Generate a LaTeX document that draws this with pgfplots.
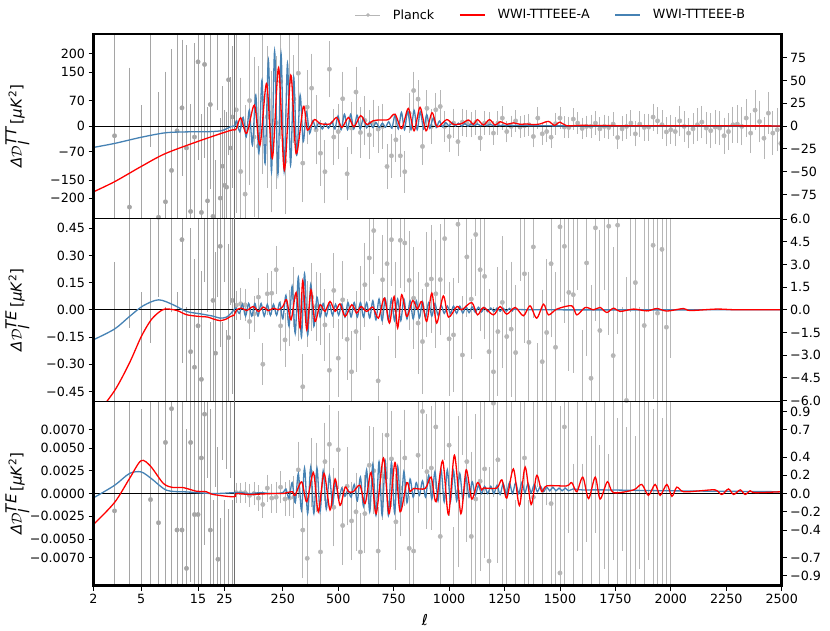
\documentclass[border=0pt]{standalone}
\usepackage{pgfplots}
\pgfplotsset{compat=1.18}
\usepackage{pgfplotstable}
\usepackage{fontspec}
\setmainfont{DejaVu Sans}
\definecolor{sblue}{RGB}{70,130,180}
\definecolor{pgray}{RGB}{182,182,182}
\definecolor{pgrayd}{RGB}{165,165,165}
\definecolor{vline}{RGB}{110,110,110}

\pgfplotstableread{
l v e
2 -150 200
3 -10.6 150
4 -88.8 150
5 -130 150
6 120 140
7 -100 134
8 -83 140
9 -48.6 130
10 -5.2 120
11 20 72
12 -24 110
13 -93.6 115
14 -12 100
15 70.5 105
16 -94.7 105
17 67.6 100
18 -82 100
19 23.7 90
20 -99 90
21 -130 90
22 110 90
23 -79 85
24 -44 85
25 -65 80
26 -67 80
27 50.8 80
28 -24 75
29 10 75
}\ttlow

\pgfplotstableread{
l v e
40 17.9 110
60 -49.8 100
80 -74.6 95
100 28 90
120 -12 85
140 -22 85
160 30.7 80
180 10 75
200 -16.9 75
220 3.6 70
240 48.9 60
260 -38.8 55
280 48.9 50
300 29.6 45
320 58 40
340 -40.6 40
360 20.8 38
380 41.6 35
400 -4.1 35
420 -29.7 33
440 -50 32
460 62.4 28
480 -12 28
500 -6 27
520 30 27
540 -52.3 26
560 -2.2 26
580 37.3 25
600 -7 25
620 6.2 24
640 -9.6 24
660 3.3 23
680 -3.3 23
700 -0.4 22
720 -44.3 22
740 -32.6 21
760 -15 21
780 -32.6 20
800 -50 20
820 14.2 19
840 39 18
860 29.6 18
880 -22.3 17
900 19.5 17
920 -0.4 16
940 17.9 15
960 21.5 15
980 -0.4 14
1000 -11.4 14
1020 3.3 13
1040 -17 13
1060 4.4 12
1080 3.3 12
1100 1.5 11
1120 4 11
1140 -13 11
1160 3.3 10
1180 2.6 10
1200 -7.7 10
1220 3.3 10
1240 8.8 10
1260 -6 9
1280 -0.4 9
1300 5.7 9
1320 -1.1 9
1340 0.4 9
1360 1.5 9
1380 -11.4 9
1400 8.8 9
1420 -8.5 9
1440 -6 9
1460 -12.2 9
1480 2.6 9
1500 8.8 9
1520 -1.1 9
1540 -1.5 9
1560 7.7 9
1580 3.3 9
1600 -2.6 9
1620 -0.4 9
1640 -0.4 10
1660 3.3 10
1680 -3 10
1700 -0.4 10
1720 -1.5 10
1740 2.2 10
1760 -12.5 10
1780 -3 11
1800 -0.4 11
1820 3.3 11
1840 -8.5 11
1860 2.2 11
1880 -1.5 12
1900 -1.1 12
1920 9.9 12
1940 5.7 12
1960 1.5 13
1980 -6.4 13
2000 -4 13
2020 -6 13
2040 5.7 14
2060 -0.4 14
2080 -7.7 14
2100 -3 14
2120 1.5 15
2140 4.4 15
2160 -2.2 15
2180 -5 16
2200 -1.1 16
2220 -2.2 16
2240 -10.6 17
2260 -6 17
2280 1.5 17
2300 2.2 18
2320 -0.4 18
2340 8.8 18
2360 -7.7 19
2380 17.5 19
2400 5 20
2420 -13.3 20
2440 14.2 20
2460 -7.7 21
2480 -4 21
2496 -19 22
}\ttbin

\pgfplotstableread{
l v e
2 8 10
3 -7 10
4 9 10
5 -8 9
6 7 9
7 10 9
8 -9 9
9 8 8
10 -7 8
11 4.64 8
12 -8 8
13 -2.77 8
14 -3.8 7
15 -1.06 7
16 -4.6 7
17 9 7
18 7 7
19 -8 7
20 0.62 6.5
21 -2.87 6.5
22 7.5 6.5
23 4.2 6.5
24 -7 6
25 8 6
26 -7.5 6
27 -1.84 6
28 6.5 6
29 0.62 6
}\telow

\pgfplotstableread{
l v e
40 0.3 0.8
60 0.4 0.9
80 0.33 0.9
100 -0.77 1.0
120 -0.27 1.0
140 0.84 1.1
160 -3.6 1.2
180 1.06 1.2
200 1.1 1.3
220 2.65 1.4
240 -1.06 1.5
260 -1.99 1.6
280 -0.55 1.7
300 0.84 1.8
320 0 1.9
340 -5.09 2.0
360 -0.27 2.0
380 0.84 2.1
400 0.22 2.1
420 0.04 2.2
440 -1 2.2
460 -4 2.3
480 1.28 2.3
500 -3.2 2.4
520 0.66 2.4
540 -1.95 2.5
560 -4.1 2.5
580 -1.44 2.5
600 0.11 2.6
620 1.66 2.6
640 3.43 2.7
660 5.24 2.7
680 -4.7 2.8
700 1.99 2.8
720 3.05 2.9
740 4.64 2.9
760 0 3.0
780 4.6 3.0
800 4.42 3.1
820 1.95 3.1
840 0.77 3.2
860 -0.88 3.2
880 -2.1 3.3
900 1.66 3.3
920 2.04 3.4
940 1.06 3.4
960 2.0 3.5
980 4.71 3.5
1000 -1.92 3.6
1020 -1.66 3.6
1040 5.66 3.7
1060 -2.99 3.7
1080 3.5 3.8
1100 0.71 3.8
1120 4.98 3.9
1140 2.65 3.9
1160 2.21 4.0
1180 -2.77 4.0
1200 -4.1 4.1
1220 -1.44 4.1
1240 0.49 4.2
1260 -1.77 4.2
1280 -1.28 4.3
1300 -2.83 4.3
1320 6.5 4.4
1340 2.38 4.4
1360 -2.15 4.5
1380 4.16 4.5
1400 -7 4.6
1420 -3.43 4.6
1440 -1.5 4.7
1460 3.05 4.7
1480 -2.48 4.8
1500 5.49 4.8
1520 4.2 4.9
1540 1.15 5.0
1560 1.0 5.0
1580 7 5.5
1600 -7 5.5
1620 3.1 6
1640 -4.53 6
1660 5.42 6
1680 -1.37 6.5
1700 8 6.5
1720 5.53 7
1740 -3.03 7
1760 5.6 7
1780 -8 8
1800 -6 8
1820 9 9
1840 1.8 9
1860 -9 9
1880 -1.04 10
1900 10 10
1920 4.27 10
1940 -0.22 11
1960 4.0 11
1980 -1.15 12
2000 9 12
}\tebin

\pgfplotstableread{
l v e
2 2 3
3 -0.19 2.5
4 1.5 2.5
5 -1.6 2.5
6 -0.066 2
7 -0.32 2
8 0.56 1.6
9 0.93 2
10 -0.40 2
11 -0.40 1.6
12 -0.82 1.5
13 0.56 1.5
14 -0.23 1.5
15 -0.23 1.5
16 0.39 1.4
17 0.87 1.4
18 1.5 1.3
19 -0.40 1.3
20 -1.4 1.3
21 1.3 1.2
22 -0.72 1.2
23 -1.5 1.2
24 1.6 1.2
25 -1.2 1.1
26 1.4 1.1
27 -1.3 1.1
28 1.2 1.0
29 -1.1 1.0
}\eelow

\pgfplotstableread{
l v e
40 0.01 0.08
60 0.01 0.08
80 0.01 0.09
100 -0.02 0.1
120 0 0.1
140 -0.05 0.11
160 -0.12 0.12
180 0.06 0.12
200 -0.05 0.13
220 -0.04 0.14
240 0.07 0.15
260 -0.06 0.16
280 -0.05 0.17
300 -0.04 0.2
320 0.26 0.28
340 -0.40 0.5
360 -0.71 0.5
380 0.23 0.35
400 0.18 0.35
420 -0.64 0.4
440 0.35 0.4
460 0.54 0.4
480 -0.15 0.4
500 0.48 0.4
520 -0.35 0.4
540 0.08 0.4
560 -0.30 0.4
580 -0.2 0.4
600 -0.64 0.4
620 -0.22 0.4
640 0.31 0.4
660 0.25 0.45
680 -0.63 0.45
700 0.19 0.45
720 0.64 0.45
740 0.38 0.5
760 -0.31 0.5
780 0.06 0.5
800 0.39 0.5
820 -0.60 0.55
840 -0.63 0.55
860 0.42 0.6
880 0.9 0.6
900 0.24 0.6
920 0.28 0.65
940 0.73 0.65
960 -0.47 0.7
980 1.1 0.7
1000 0.53 0.75
1020 -1.2 0.8
1040 0.02 0.8
1060 1.3 0.85
1080 0.35 0.85
1100 -0.47 0.9
1120 -0.06 0.9
1140 0.135 0.95
1160 0.27 0.95
1180 -0.74 1.0
1200 0.99 1.0
1220 0.37 1.1
1240 -1.3 1.1
1260 0.03 1.2
1280 1.4 1.2
1300 -1.4 1.3
1320 1.2 1.3
1340 0.39 1.4
1360 -1.5 1.4
1380 -0.04 1.5
1400 1.6 1.5
1420 -1.6 1.6
1440 1.5 1.6
1460 -0.11 1.7
1480 -1.7 1.7
1500 -0.87 1.8
1520 0.73 1.8
1540 1.8 2.2
1560 -1.9 2.2
1580 1.7 2.3
1600 -2.0 2.3
1620 1.9 2.4
1640 -1.8 2.4
1660 2.1 2.5
1680 -2.0 2.5
1700 1.8 2.6
1720 -2.2 2.6
1740 2.0 2.7
1760 -1.9 2.7
1780 2.2 2.8
1800 -2.1 2.8
1820 1.9 2.9
1840 -2.3 2.9
1860 2.2 3.0
1880 -2.0 3.0
1900 2.4 3.1
1920 -2.2 3.1
1940 2.1 3.2
1960 -2.4 3.2
1980 2.3 3.3
2000 -2.2 3.3
}\eebin

\pgfplotsset{
  x coord trafo/.code={\pgfmathparse{(#1<=30) ? 51.883*ln(#1/2) : 140.5+0.22166*(#1-30)}},
  panel/.style={scale only axis, width=688.2pt, xmin=2, xmax=2500, anchor=south west,
    scaled y ticks=false, scaled x ticks=false,
    axis line style={black, line width=0.8pt}, tick style={black, line width=0.8pt},
    major tick length=4.9pt, tick align=outside,
    ticklabel style={font=\fontsize{12.7}{15}\selectfont},
    label style={font=\fontsize{15}{18}\selectfont},
    ylabel style={at={(axis description cs:-0.1105,0.5)}, anchor=center},
  },
  lax/.style={panel, ytick pos=left},
  rax/.style={panel, axis y line*=right, axis x line=none},
  pts/.style={only marks, mark=*, mark size=2.2pt, color=pgray,
    error bars/.cd, y dir=both, y explicit, error mark=-,
    error bar style={line width=0.9pt, pgray},
    error mark options={line width=0.9pt, pgray, mark size=2.6pt}},
  ptsd/.style={only marks, mark=*, mark size=2.2pt, color=pgrayd,
    error bars/.cd, y dir=both, y explicit, error mark=-,
    error bar style={line width=0.9pt, pgrayd},
    error mark options={line width=0.9pt, pgrayd, mark size=2.6pt}},
  rline/.style={red, line width=1.3pt, smooth, tension=0.5},
  bline/.style={sblue, line width=1.3pt, smooth, tension=0.5},
}

\newcommand{\dlab}[1]{\textit{Δ}$\mathcal{D}_{\textit{l}}^{\textit{#1}}$\,[\textit{μK}\textsuperscript{2}]}

\begin{document}
\begin{tikzpicture}
\useasboundingbox (0,0) rectangle (830pt,630pt);

% ================= TT panel =================
\begin{axis}[rax, at={(93.5pt,411.8pt)}, height=184.2pt, ymin=-101, ymax=101,
  ytick={-75,-50,-25,0,25,50,75}, yticklabels={−75,−50,−25,0,25,50,75}]
\addplot[ptsd] table[x=l, y=v, y error=e]{\ttlow};
\addplot[pts] table[x=l, y=v, y error=e]{\ttbin};
\end{axis}
\begin{axis}[lax, at={(93.5pt,411.8pt)}, height=184.2pt, ymin=-255, ymax=255,
  xtick=\empty,
  ytick={-200,-150,-70,0,70,150,200}, yticklabels={−200,−150,−70,0,70,150,200},
  ylabel={\dlab{TT}},
  legend style={at={(axis description cs:0.6633,1)}, anchor=center, yshift=19pt,
    draw=none, fill=none, legend columns=3, font=\fontsize{12.7}{15}\selectfont,
    nodes={inner sep=0pt},
    /tikz/every odd column/.append style={column sep=12pt},
    /tikz/every even column/.append style={column sep=25pt}},
  ]
\addlegendimage{legend image code/.code={\draw[pgray, line width=0.9pt] (0pt,0pt) -- (25pt,0pt); \fill[pgray] (12.5pt,0pt) circle (1.6pt);}}
\addlegendentry{Planck}
\addlegendimage{legend image code/.code={\draw[red, line width=1.3pt] (0pt,0pt) -- (25pt,0pt);}}
\addlegendentry{WWI-TTTEEE-A}
\addlegendimage{legend image code/.code={\draw[sblue, line width=1.3pt] (0pt,0pt) -- (25pt,0pt);}}
\addlegendentry{WWI-TTTEEE-B}
\addplot[forget plot, black, line width=0.8pt] coordinates {(2,0) (2500,0)};
\addplot[forget plot, vline, line width=0.9pt] coordinates {(30,-256) (30,256)};
\addplot[forget plot, bline] coordinates {
(2,-59) (3,-48) (5,-31) (8,-18.5) (12,-16) (16,-15.7) (20,-15) (24,-12) (28,-2) (30,0) (35,3)
(42,14.7) (56,-15.7) (71,24) (85,-29.5) (99,44) (113,-52.5) (128,86) (142,-75.6) (156,127)
(170,-103) (185,182) (199,-126) (213,208) (228,-133) (242,201) (256,-126) (271,173) (285,-108)
(299,136) (313,-80) (328,86) (342,-43) (356,40) (371,-20) (385,14.7) (399,-6.5)
(413,10) (428,-8) (442,8) (456,-6) (471,12) (485,-8) (499,28) (513,-10) (528,33) (542,-10)
(556,33) (570,-8) (585,30) (599,-8) (613,22) (628,-5) (642,12) (656,-4) (670,10) (685,-4)
(699,8) (713,-3) (728,12) (742,-6) (756,30) (771,-8) (785,38) (799,-10) (813,42) (828,-10)
(842,44) (856,-10) (870,40) (885,-8) (899,32) (913,-6) (928,22) (942,-4) (956,14) (971,-2)
(985,10) (999,0) (1014,9) (1028,0) (1042,8) (1057,0) (1071,7) (1085,0) (1100,6) (1114,1)
(1128,6) (1142,1) (1157,5) (1171,1) (1185,5) (1200,1) (1214,4) (1228,1) (1243,3) (1257,1)
(1271,3) (1286,1) (1300,2) (1400,1) (1600,0.5) (2500,0.3)};
\addplot[forget plot, rline] coordinates {
(2,-182) (3,-154) (5,-112) (8,-76) (16,-39) (28,-12) (30,-11) (36,-10) (42,-6) (60,23) (87,-20)
(122,58) (147,-52) (177,118) (203,-89) (231,162) (257,-122) (286,141) (310,-76) (343,55)
(361,-11) (392,18) (418,7) (463,6) (493,24) (516,-4) (546,24) (571,-2) (601,29) (628,5)
(658,15) (689,17) (726,18) (756,33) (786,-7) (816,49) (842,-13) (869,52) (896,-13) (923,37)
(947,-2) (989,18) (1019,5) (1057,7) (1087,17) (1110,5) (1128,18) (1155,3) (1182,18) (1207,3)
(1230,12) (1260,5) (1290,9) (1320,5) (1350,6) (1380,4) (1410,6) (1448,13) (1475,2) (1500,11)
(1530,1) (1600,2) (1800,1) (2000,1) (2500,0.5)};
\end{axis}

% ================= TE panel =================
\begin{axis}[rax, at={(93.5pt,228.6pt)}, height=183.2pt, ymin=-6.06, ymax=6.06,
  ytick={-6,-4.5,-3,-1.5,0,1.5,3,4.5,6},
  yticklabels={−6.0,−4.5,−3.0,−1.5,0.0,1.5,3.0,4.5,6.0}]
\addplot[ptsd] table[x=l, y=v, y error=e]{\telow};
\addplot[pts] table[x=l, y=v, y error=e]{\tebin};
\end{axis}
\begin{axis}[lax, at={(93.5pt,228.6pt)}, height=183.2pt, ymin=-0.505, ymax=0.505,
  xtick=\empty,
  ytick={-0.45,-0.3,-0.15,0,0.15,0.3,0.45},
  yticklabels={−0.45,−0.30,−0.15,0.00,0.15,0.30,0.45},
  ylabel={\dlab{TE}}]
\addplot[black, line width=0.8pt] coordinates {(2,0) (2500,0)};
\addplot[vline, line width=0.9pt] coordinates {(30,-0.51) (30,0.51)};
\addplot[bline] coordinates {
(2,-0.165) (3,-0.106) (4,-0.037) (5.2,0.022) (7,0.055) (9.3,0.0275) (12,-0.009) (15.6,-0.022)
(20,-0.035) (23,-0.046) (26,-0.04) (28,-0.022) (30,0) (35,0.01)
(40,0.01) (54,-0.02) (68,0.03) (82,-0.035) (96,0.035) (110,-0.035) (124,0.035) (138,-0.035)
(152,0.035) (166,-0.035) (180,0.03) (194,-0.03) (208,0.03) (222,-0.03) (236,0.04) (250,-0.05)
(264,0.08) (278,-0.09) (292,0.13) (306,-0.13) (320,0.18) (334,-0.15) (348,0.2) (362,-0.14)
(376,0.14) (390,-0.09) (404,0.07) (418,-0.04) (432,0.035) (446,-0.035) (460,0.035) (474,-0.03)
(488,0.03) (502,-0.03) (516,0.03) (530,-0.04) (544,0.04) (558,-0.04) (572,0.04) (586,-0.04)
(600,0.04) (614,-0.04) (628,0.04) (642,-0.045) (656,0.05) (670,-0.055) (684,0.06) (698,-0.06)
(712,0.06) (726,-0.06) (740,0.06) (754,-0.06) (768,0.06) (782,-0.06) (796,0.06) (810,-0.05)
(824,0.05) (838,-0.05) (852,0.05) (866,-0.045) (880,0.045) (894,-0.04) (908,0.04) (922,-0.035)
(936,0.035) (950,-0.03) (964,0.025) (978,-0.02) (992,0.02) (1006,-0.02) (1020,0.02) (1034,-0.02)
(1048,0.02) (1062,-0.018) (1076,0.018) (1090,-0.016) (1104,0.016) (1118,-0.014) (1132,0.014)
(1146,-0.012) (1160,0.012) (1174,-0.01) (1188,0.01) (1202,-0.01) (1216,0.01) (1230,-0.008)
(1244,0.008) (1258,-0.008) (1272,0.008) (1286,-0.006) (1300,0.006) (1400,0) (2500,0)};
\addplot[rline] coordinates {
(2,-0.60) (3,-0.446) (4,-0.293) (5,-0.15) (6,-0.06) (7,-0.015) (8,0.005) (10,-0.004) (12,-0.027)
(15,-0.036) (18,-0.04) (20,-0.05) (23,-0.06) (26,-0.05) (28,-0.037) (30,-0.03) (42,0) (65,0.009)
(87,-0.004) (117,0.018) (140,-0.009) (162,0.015) (185,-0.005) (207,0.009) (230,0) (250,0.018)
(267,0.055) (287,-0.055) (310,0.095) (328,-0.10) (340,0.16) (358,-0.11) (377,0.11) (395,-0.064)
(418,0.028) (440,-0.009) (463,0.046) (486,-0.009) (508,0.033) (531,-0.037) (561,0.028)
(583,-0.018) (603,0.018) (628,-0.009) (656,0.015) (681,-0.046) (708,0.064) (731,-0.073)
(752,0.073) (768,-0.10) (786,0.083) (809,-0.037) (836,0.051) (857,0.004) (877,0.046) (899,-0.064)
(922,0.092) (944,-0.073) (974,0.077) (997,-0.04) (1035,0.018) (1057,0) (1102,0.04) (1128,-0.028)
(1155,0.013) (1200,-0.028) (1230,0.018) (1260,-0.024) (1298,0.013) (1335,-0.033) (1365,0.022)
(1395,-0.046) (1426,0.031) (1448,-0.028) (1486,0.004) (1553,0.022) (1576,-0.028) (1614,0.013)
(1651,0) (1681,0.013) (1711,-0.015) (1741,0.009) (1771,-0.009) (1832,0.004) (1892,-0.006)
(1937,0.007) (1982,-0.007) (2057,0.007) (2087,-0.004) (2208,0.004) (2300,0) (2500,0)};
\end{axis}

% ================= EE panel =================
\begin{axis}[rax, at={(93.5pt,44.3pt)}, height=184.3pt, ymin=-1.01, ymax=1.01,
  ytick={-0.9,-0.7,-0.4,-0.2,0,0.2,0.4,0.7,0.9},
  yticklabels={−0.9,−0.7,−0.4,−0.2,0.0,0.2,0.4,0.7,0.9}]
\addplot[ptsd] table[x=l, y=v, y error=e]{\eelow};
\addplot[pts] table[x=l, y=v, y error=e]{\eebin};
\end{axis}
\begin{axis}[lax, at={(93.5pt,44.3pt)}, height=184.3pt, ymin=-0.0101, ymax=0.0101,
  xtick={2,5,15,25,250,500,750,1000,1250,1500,1750,2000,2250,2500},
  xticklabels={2,5,15,25,250,500,750,1000,1250,1500,1750,2000,2250,2500},
  xtick pos=bottom,
  xlabel={\textit{ℓ}},
  xlabel style={at={(axis description cs:0.4817,0)}, anchor=center, yshift=-34pt},
  ytick={-0.007,-0.005,-0.0025,0,0.0025,0.005,0.007},
  yticklabels={−0.0070,−0.0050,−0.0025,0.0000,0.0025,0.0050,0.0070},
  ylabel={\dlab{TE}}]
\addplot[black, line width=0.8pt] coordinates {(2,0) (2500,0)};
\addplot[vline, line width=0.9pt] coordinates {(30,-0.0102) (30,0.0102)};
\addplot[bline] coordinates {
(2,-0.00047) (3,0.0009) (4,0.0022) (5,0.00237) (6.1,0.00164) (8.2,0.00036) (12,0.00018) (20,0)
(30,0.0001) (60,0.0001) (100,0) (150,0.0001) (200,0) (250,0.0001)
(264,0.0005) (278,-0.0005) (292,0.0012) (306,-0.0010) (320,0.0022) (334,-0.0018) (348,0.0028)
(362,-0.0022) (376,0.0029) (390,-0.0022) (404,0.0028) (418,-0.0020) (432,0.0025) (446,-0.0017)
(460,0.0020) (474,-0.0012) (488,0.0012) (502,-0.0006) (516,0.0006) (530,-0.0003) (544,0.0004)
(558,-0.0004) (572,0.001) (586,-0.0008) (600,0.0018) (614,-0.0014) (628,0.0026) (642,-0.0020)
(656,0.0032) (670,-0.0024) (684,0.0035) (698,-0.0024) (712,0.0036) (726,-0.0024) (740,0.0034)
(754,-0.0021) (768,0.003) (782,-0.0016) (796,0.0024) (810,-0.001) (824,0.0016) (838,-0.0004)
(852,0.0012) (866,-0.0002) (880,0.0014) (894,-0.0004) (908,0.002) (922,-0.0006) (936,0.0024)
(950,-0.0008) (964,0.0026) (978,-0.0009) (992,0.0026) (1006,-0.0009) (1020,0.0025) (1034,-0.0008)
(1048,0.0022) (1062,-0.0006) (1076,0.0018) (1090,-0.0004) (1104,0.0013) (1118,-0.0002)
(1132,0.0009) (1146,0) (1160,0.0008) (1174,0) (1188,0.0008) (1202,0) (1216,0.0009) (1230,-0.0001)
(1244,0.0011) (1258,-0.0001) (1272,0.0012) (1286,0) (1300,0.0012) (1314,0) (1328,0.0012)
(1342,0.0001) (1356,0.0011) (1370,0.0001) (1384,0.001) (1398,0.0002) (1412,0.0008) (1426,0.0002)
(1440,0.0007) (1454,0.0003) (1468,0.0007) (1482,0.0003) (1496,0.0006) (1510,0.0003)
(1524,0.0006) (1538,0.0003) (1560,0.0005) (1600,0.0004) (1700,0.0004) (2000,0.0003) (2500,0.0002)};
\addplot[rline] coordinates {
(2,-0.00339) (3,-0.00098) (4,0.00164) (5,0.0036) (6,0.0030) (7.7,0.0011) (9.3,0.00066)
(11.2,0.00066) (14.6,0.00025) (17.6,0.0002) (20,-0.0001) (30,-0.00036) (40,0) (100,-0.0001)
(200,0) (250,0) (270,0.0001) (293,0.0002) (305,-0.0002) (335,0.00128) (358,-0.0009) (388,0.0023)
(410,-0.002) (436,0.0022) (463,-0.0018) (486,0.0016) (508,-0.0013) (531,0.0007) (546,0.0002)
(568,0.0002) (598,0.0009) (621,-0.0011) (648,0.0023) (671,-0.0022) (704,0.0039) (729,-0.0022)
(756,0.0034) (779,-0.002) (809,0.0012) (824,0.0002) (839,0.00055) (892,0.00055) (919,0.0018)
(941,-0.0009) (971,0.0036) (997,-0.0023) (1024,0.0042) (1053,-0.0022) (1077,0.0026)
(1102,-0.0006) (1128,0.0012) (1147,0.0004) (1155,0.0006) (1215,0.0006) (1238,0.0015)
(1260,-0.0005) (1290,0.0027) (1317,-0.0013) (1343,0.0029) (1370,-0.0012) (1395,0.002)
(1418,0.0002) (1440,0.00084) (1530,0.00084) (1553,0.0012) (1576,0.0002) (1603,0.0018)
(1629,-0.00055) (1659,0.0018) (1681,-0.0006) (1714,0.0013) (1741,0.0001) (1832,0.0004)
(1869,0.001) (1899,-0.0002) (1929,0.001) (1952,-0.0002) (1982,0.001) (2005,-0.0003) (2027,0.0007)
(2057,0.0002) (2132,0.0003) (2200,0.0004) (2230,-0.0001) (2260,0.0005) (2283,-0.0001)
(2313,0.0004) (2335,-0.0001) (2358,0.0003) (2380,0.0001) (2500,0.0002)};
\end{axis}

\draw[black, line width=2.6pt] (93.5pt,44.3pt) rectangle (781.7pt,596pt);
\end{tikzpicture}
\end{document}
